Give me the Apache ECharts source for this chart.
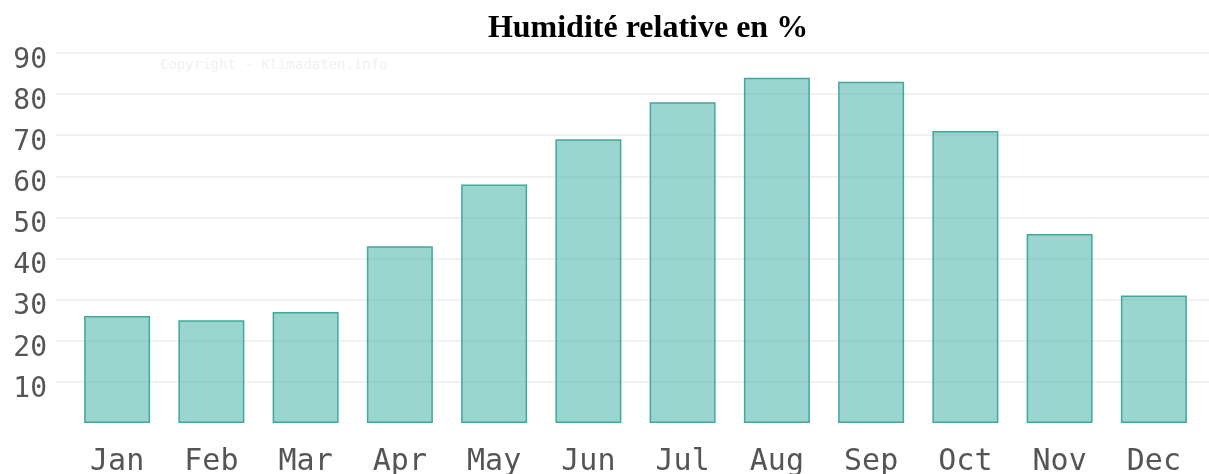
<!DOCTYPE html>
<html>
<head>
<meta charset="utf-8">
<script src="https://cdn.jsdelivr.net/npm/echarts@6/dist/echarts.min.js"></script>
<style>
  html, body { margin: 0; padding: 0; background: #fff; }
  #chart { width: 1209px; height: 474px; }
</style>
</head>
<body>
<div id="chart"></div>
<script>
// Data
var months = ['Jan', 'Feb', 'Mar', 'Apr', 'May', 'Jun', 'Jul', 'Aug', 'Sep', 'Oct', 'Nov', 'Dec'];
var humidity = [26, 25, 27, 43, 58, 69, 78, 84, 83, 71, 46, 31];
var yTicks = [10, 20, 30, 40, 50, 60, 70, 80, 90];

var chart = echarts.init(document.getElementById('chart'));

var option = {
    animation: false,
    title: {
        text: 'Humidité relative en %',
        left: 643,
        textAlign: 'center',
        top: 8,
        textStyle: {
            fontFamily: '"Liberation Serif", "Times New Roman", serif',
            fontSize: 32,
            fontWeight: 'bold',
            color: '#000'
        }
    },
    graphic: [{
        type: 'text',
        left: 160,
        top: 58,
        style: {
            text: 'Copyright - Klimadaten.info',
            fontFamily: '"DejaVu Sans Mono", monospace',
            fontSize: 14,
            fill: '#f0f0f0'
        }
    }],
    // grid 0 carries the y labels and split lines, grid 1 the bars
    grid: [
        { left: 56, right: 0, top: 53, bottom: 51, outerBoundsMode: 'none' },
        { left: 70, right: 8, top: 53, bottom: 51, outerBoundsMode: 'none' }
    ],
    xAxis: [
        { gridIndex: 0, type: 'value', show: false },
        {
            gridIndex: 1,
            type: 'category',
            data: months,
            axisLine: { show: false },
            axisTick: { show: false },
            axisLabel: {
                margin: 24,
                fontFamily: '"DejaVu Sans Mono", monospace',
                fontSize: 30,
                color: '#555'
            }
        }
    ],
    yAxis: [
        {
            gridIndex: 0,
            type: 'value',
            min: 0,
            max: 90,
            interval: 10,
            axisLine: { show: false },
            axisTick: { show: false },
            axisLabel: {
                margin: 9,
                fontFamily: '"DejaVu Sans Mono", monospace',
                fontSize: 28,
                color: '#555',
                verticalAlign: 'top',
                lineHeight: 15,
                formatter: function (v) {
                    return yTicks.indexOf(v) >= 0 ? String(v) : '';
                }
            },
            splitLine: {
                showMinLine: false,
                lineStyle: { color: '#ececec', width: 1.5 }
            }
        },
        { gridIndex: 1, type: 'value', min: 0, max: 90, show: false }
    ],
    series: [
        {
            type: 'bar',
            xAxisIndex: 1,
            yAxisIndex: 1,
            data: humidity,
            barWidth: '70%',
            itemStyle: {
                color: 'rgba(77,182,172,0.57)',
                borderColor: '#40a99c',
                borderWidth: 1.5
            }
        }
    ]
};

chart.setOption(option);
</script>
</body>
</html>
